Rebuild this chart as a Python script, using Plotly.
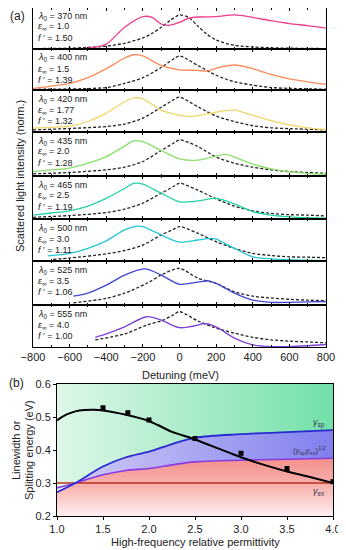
import plotly.graph_objects as go

W, H = 346, 550
OFF = 8  # page body margin of the html page
FONT = "Liberation Sans, Arial, sans-serif"

# ---------------- panel (a) data ----------------
detuning_ticks = [-800, -600, -400, -200, 0, 200, 400, 600, 800]
lambda0 = [370, 400, 420, 435, 465, 500, 525, 555]
eps_inf = ["1.0", "1.5", "1.77", "2.0", "2.5", "3.0", "3.5", "4.0"]
f_osc = ["1.50", "1.39", "1.32", "1.28", "1.19", "1.11", "1.06", "1.00"]
line_colors = ["#f03c8c", "#fa8c5c", "#f0d668", "#8ade6a", "#22d2a8", "#22c6d2", "#4444d4", "#7d40d4"]

# coupled spectra (solid)
det_370 = [-800, -600, -500, -400, -300, -200, -150, -100, -50, 0, 50, 100, 200, 300, 400, 500, 600, 700, 800]
int_370 = [0.01, 0.01, 0.02, 0.12, 0.53, 0.79, 0.77, 0.61, 0.58, 0.65, 0.75, 0.78, 0.79, 0.83, 0.77, 0.69, 0.62, 0.57, 0.51]
det_400 = [-800, -700, -600, -500, -400, -300, -250, -200, -100, 0, 100, 150, 200, 300, 400, 500, 600, 700, 800]
int_400 = [0.04, 0.095, 0.16, 0.30, 0.52, 0.78, 0.86, 0.83, 0.60, 0.49, 0.48, 0.46, 0.53, 0.61, 0.52, 0.38, 0.27, 0.20, 0.14]
det_420 = [-800, -700, -600, -500, -400, -300, -250, -200, -100, 0, 50, 100, 150, 250, 300, 400, 500, 600, 700, 800]
int_420 = [0.09, 0.11, 0.14, 0.25, 0.45, 0.72, 0.81, 0.79, 0.52, 0.40, 0.37, 0.39, 0.43, 0.51, 0.52, 0.40, 0.27, 0.17, 0.10, 0.06]
det_435 = [-800, -700, -600, -500, -400, -300, -250, -200, -100, 0, 100, 200, 250, 300, 400, 500, 600, 700, 800]
int_435 = [0.10, 0.14, 0.18, 0.29, 0.44, 0.68, 0.80, 0.78, 0.58, 0.39, 0.36, 0.45, 0.49, 0.43, 0.27, 0.16, 0.10, 0.06, 0.04]
det_465 = [-800, -700, -600, -500, -400, -300, -250, -200, -100, 0, 100, 200, 300, 400, 500, 600, 700, 800]
int_465 = [0.09, 0.14, 0.19, 0.30, 0.48, 0.71, 0.83, 0.81, 0.60, 0.40, 0.42, 0.48, 0.35, 0.17, 0.09, 0.05, 0.03, 0.02]
det_500 = [-720, -600, -500, -400, -300, -230, -200, -100, 0, 100, 175, 200, 300, 400, 500, 600, 700, 800]
int_500 = [0.12, 0.18, 0.30, 0.48, 0.74, 0.83, 0.82, 0.62, 0.45, 0.50, 0.54, 0.52, 0.30, 0.10, 0.05, 0.03, 0.02, 0.01]
det_525 = [-580, -500, -400, -300, -190, -100, -35, 0, 100, 160, 200, 300, 400, 500, 600, 700, 800]
int_525 = [0.20, 0.27, 0.45, 0.68, 0.82, 0.68, 0.53, 0.47, 0.52, 0.55, 0.49, 0.27, 0.11, 0.06, 0.06, 0.07, 0.08]
det_555 = [-460, -400, -300, -180, -100, -35, 0, 100, 130, 200, 300, 400, 500, 600, 700, 800]
int_555 = [0.23, 0.31, 0.48, 0.72, 0.64, 0.51, 0.46, 0.52, 0.56, 0.48, 0.21, 0.05, 0.01, 0.01, 0.03, 0.06]

# uncoupled exciton spectra (dashed)
xdet_370 = [-800, -600, -500, -400, -300, -200, -150, -100, -50, 0, 50, 100, 150, 200, 300, 400, 500, 600, 800]
xint_370 = [0.01, 0.02, 0.04, 0.07, 0.14, 0.27, 0.38, 0.53, 0.70, 0.83, 0.77, 0.56, 0.36, 0.22, 0.09, 0.05, 0.03, 0.02, 0.01]
xdet_400 = [-800, -400, -300, -200, -100, -35, 0, 100, 200, 300, 400, 500, 600, 800]
xint_400 = [0.02, 0.06, 0.16, 0.30, 0.55, 0.75, 0.83, 0.60, 0.36, 0.20, 0.12, 0.06, 0.04, 0.02]
xdet_420 = [-800, -400, -300, -200, -100, -35, 0, 100, 200, 300, 400, 500, 600, 800]
xint_420 = [0.05, 0.13, 0.19, 0.33, 0.59, 0.76, 0.83, 0.60, 0.38, 0.25, 0.15, 0.10, 0.08, 0.05]
xdet_435 = [-800, -600, -400, -300, -200, -100, -35, 0, 100, 200, 300, 400, 500, 600, 700, 800]
xint_435 = [0.05, 0.08, 0.14, 0.20, 0.33, 0.58, 0.74, 0.82, 0.67, 0.43, 0.29, 0.20, 0.14, 0.10, 0.08, 0.06]
xdet_465 = [-800, -600, -400, -300, -200, -100, -35, 0, 100, 200, 300, 400, 500, 600, 700, 800]
xint_465 = [0.04, 0.08, 0.15, 0.23, 0.37, 0.60, 0.75, 0.83, 0.67, 0.47, 0.30, 0.19, 0.13, 0.10, 0.09, 0.07]
xdet_500 = [-690, -600, -400, -300, -200, -100, -35, 0, 100, 200, 300, 400, 500, 600, 700, 800]
xint_500 = [0.04, 0.07, 0.17, 0.25, 0.38, 0.62, 0.75, 0.82, 0.66, 0.46, 0.30, 0.18, 0.13, 0.10, 0.09, 0.08]
xdet_525 = [-580, -400, -300, -180, -100, 0, 100, 200, 300, 400, 500, 600, 700, 800]
xint_525 = [0.05, 0.15, 0.27, 0.49, 0.68, 0.83, 0.61, 0.49, 0.30, 0.20, 0.16, 0.13, 0.11, 0.10]
xdet_555 = [-460, -300, -180, -90, -35, 0, 100, 200, 300, 400, 500, 600, 700, 800]
xint_555 = [0.17, 0.31, 0.52, 0.64, 0.76, 0.84, 0.62, 0.45, 0.33, 0.23, 0.17, 0.14, 0.12, 0.10]

coupled = [(det_370, int_370), (det_400, int_400), (det_420, int_420), (det_435, int_435),
           (det_465, int_465), (det_500, int_500), (det_525, int_525), (det_555, int_555)]
exciton = [(xdet_370, xint_370), (xdet_400, xint_400), (xdet_420, xint_420), (xdet_435, xint_435),
           (xdet_465, xint_465), (xdet_500, xint_500), (xdet_525, xint_525), (xdet_555, xint_555)]

# ---------------- panel (b) data ----------------
eps_ticks = [1.0, 1.5, 2.0, 2.5, 3.0, 3.5, 4.0]
eps_theory = [1.0, 1.1, 1.2, 1.3, 1.4, 1.5, 1.75, 2.0, 2.1, 2.25, 2.5, 2.75, 3.0, 3.25, 3.5, 3.75, 4.0]
split_theory = [0.490, 0.507, 0.517, 0.521, 0.522, 0.520, 0.507, 0.488, 0.475, 0.455, 0.432, 0.405,
                 0.378, 0.355, 0.335, 0.318, 0.300]
eps_exp = [1.5, 1.77, 2.0, 2.5, 3.0, 3.5, 4.0]
split_exp = [0.528, 0.513, 0.491, 0.435, 0.390, 0.344, 0.304]
eps_grid = [1.0, 1.2, 1.5, 1.75, 2.0, 2.25, 2.5, 3.0, 3.5, 4.0]
gamma_sp = [0.272, 0.300, 0.350, 0.378, 0.395, 0.418, 0.437, 0.448, 0.454, 0.460]
gamma_geo = [0.285, 0.300, 0.325, 0.338, 0.344, 0.355, 0.364, 0.369, 0.372, 0.375]
gamma_ex = [0.30] * len(eps_grid)
yb_range = [0.2, 0.6]

FW, FH = W - OFF, H - OFF


def px(x):
    return min(1.0, max(0.0, (x - OFF) / FW))


def py(y):
    return min(1.0, max(0.0, 1 - (y - OFF) / FH))


fig = go.Figure()
layout = {}
ann = []

panel_px = [8, 49, 90, 132, 176, 219, 261, 305, 347]
xa_dom = [px(33), px(326)]
tick_font = dict(size=11, family=FONT, color="#222")

for i in range(8):
    k = i + 1
    xs = "x" if k == 1 else f"x{k}"
    ys = "y" if k == 1 else f"y{k}"
    dx, dy = exciton[i]
    fig.add_trace(go.Scatter(x=dx, y=dy, mode="lines", xaxis=xs, yaxis=ys,
                             line=dict(color="#222222", width=1.3, dash="3px,2px", shape="spline", smoothing=0.8),
                             showlegend=False, hoverinfo="skip"))
    cx, cy = coupled[i]
    fig.add_trace(go.Scatter(x=cx, y=cy, mode="lines", xaxis=xs, yaxis=ys,
                             line=dict(color=line_colors[i], width=1.3, shape="spline", smoothing=0.8),
                             showlegend=False, hoverinfo="skip"))
    top, bot = panel_px[i], panel_px[i + 1]
    xname = "xaxis" if k == 1 else f"xaxis{k}"
    yname = "yaxis" if k == 1 else f"yaxis{k}"
    layout[xname] = dict(domain=xa_dom, anchor=ys, range=[-800, 800], showline=True, linecolor="black",
                         linewidth=1, mirror="ticks", ticks="inside", ticklen=3, tickcolor="black",
                         tickvals=detuning_ticks, showticklabels=(k == 8), showgrid=False, zeroline=False,
                         minor=dict(ticks="inside", ticklen=2, dtick=100, tickcolor="black"),
                         tickfont=tick_font, automargin=False)
    if k != 1:
        layout[xname]["matches"] = "x"
    layout[yname] = dict(domain=[py(bot), py(top)], anchor=xs, range=[0, 1], showline=True, linecolor="black",
                         linewidth=1, mirror=True, ticks="", showticklabels=False, showgrid=False,
                         zeroline=False, automargin=False)
    texts = [f"<i>λ</i><sub>0</sub> = {lambda0[i]} nm",
             f"<i>ε</i><sub>∞</sub> = {eps_inf[i]}",
             f"<i>f</i> ′ = {f_osc[i]}"]
    base = top + 8 if i == 0 else top + 9
    for j, t in enumerate(texts):
        ann.append(dict(x=px(36), y=py(base + 11 * j), xref="paper", yref="paper", text=t,
                        showarrow=False, xanchor="left", yanchor="middle",
                        font=dict(size=9, family=FONT, color="#222")))

# ---------------- panel (b) ----------------
y_lo = [yb_range[0]] * len(eps_grid)
y_hi = [yb_range[1]] * len(eps_grid)
fig.add_trace(go.Scatter(x=eps_grid, y=y_lo, mode="lines", line=dict(width=0), xaxis="x9", yaxis="y9",
                         showlegend=False, hoverinfo="skip"))
fig.add_trace(go.Scatter(x=eps_grid, y=gamma_geo, mode="lines", line=dict(width=0, shape="spline"), fill="tonexty",
                         fillgradient=dict(type="vertical",
                                           colorscale=[[0, "#fdf0f0"], [0.5, "#f8b4b0"], [1, "#f2908c"]]),
                         xaxis="x9", yaxis="y9", showlegend=False, hoverinfo="skip"))
fig.add_trace(go.Scatter(x=eps_grid, y=gamma_sp, mode="lines", line=dict(width=0, shape="spline"), fill="tonexty",
                         fillgradient=dict(type="horizontal",
                                           colorscale=[[0, "#d4cef6"], [1, "#8080ee"]]),
                         xaxis="x9", yaxis="y9", showlegend=False, hoverinfo="skip"))
fig.add_trace(go.Scatter(x=eps_grid, y=y_hi, mode="lines", line=dict(width=0), fill="tonexty",
                         fillgradient=dict(type="horizontal",
                                           colorscale=[[0, "#dff7e8"], [1, "#72e0a8"]]),
                         xaxis="x9", yaxis="y9", showlegend=False, hoverinfo="skip"))
fig.add_trace(go.Scatter(x=eps_grid, y=gamma_ex, mode="lines", line=dict(color="#b8301e", width=1.3),
                         xaxis="x9", yaxis="y9", showlegend=False, hoverinfo="skip"))
fig.add_trace(go.Scatter(x=eps_grid, y=gamma_geo, mode="lines",
                         line=dict(color="#8a3ae0", width=1.6, shape="spline"),
                         xaxis="x9", yaxis="y9", showlegend=False, hoverinfo="skip"))
fig.add_trace(go.Scatter(x=eps_grid, y=gamma_sp, mode="lines",
                         line=dict(color="#2a2ad2", width=1.8, shape="spline"),
                         xaxis="x9", yaxis="y9", showlegend=False, hoverinfo="skip"))
fig.add_trace(go.Scatter(x=eps_theory, y=split_theory, mode="lines",
                         line=dict(color="black", width=2, shape="spline", smoothing=0.6),
                         xaxis="x9", yaxis="y9", showlegend=False, hoverinfo="skip"))
fig.add_trace(go.Scatter(x=eps_exp, y=split_exp, mode="markers",
                         marker=dict(symbol="square", size=5, color="black"),
                         xaxis="x9", yaxis="y9", showlegend=False, hoverinfo="skip"))

layout["xaxis9"] = dict(domain=[px(57), px(333)], anchor="y9", range=[1, 4], tickvals=eps_ticks,
                        ticktext=[f"{v:.1f}" for v in eps_ticks], showline=True, linecolor="black",
                        linewidth=1, mirror=True, ticks="outside", ticklen=3, tickcolor="black",
                        showgrid=False, zeroline=False, tickfont=tick_font, automargin=False)
layout["yaxis9"] = dict(domain=[py(516), py(384)], anchor="x9", range=yb_range, dtick=0.1, tickformat=".1f",
                        showline=True, linecolor="black", linewidth=1, mirror=True, ticks="outside",
                        ticklen=3, tickcolor="black", showgrid=False, zeroline=False,
                        tickfont=tick_font, automargin=False)

lab_font = dict(size=9, family=FONT, color="#333355")
title_font = dict(size=11, family=FONT, color="#222")
ann += [
    dict(x=3.93, y=0.483, xref="x9", yref="y9", text="<i>γ</i><sub>sp</sub>", showarrow=False,
         xanchor="right", font=lab_font),
    dict(x=3.95, y=0.397, xref="x9", yref="y9", text="(<i>γ</i><sub>sp</sub><i>γ</i><sub>ex</sub>)<sup>1/2</sup>",
         showarrow=False, xanchor="right", font=dict(size=8, family=FONT, color="#333355")),
    dict(x=3.93, y=0.274, xref="x9", yref="y9", text="<i>γ</i><sub>ex</sub>", showarrow=False,
         xanchor="right", font=lab_font),
    dict(x=px(17), y=py(16), xref="paper", yref="paper", text="(a)", showarrow=False, borderpad=0,
         xanchor="center", yanchor="middle", font=dict(size=12, family=FONT, color="#222")),
    dict(x=px(16), y=py(383), xref="paper", yref="paper", text="(b)", showarrow=False, borderpad=0,
         xanchor="center", yanchor="middle", font=dict(size=12, family=FONT, color="#222")),
    dict(x=px(20), y=py(176), xref="paper", yref="paper", text="Scattered light intensity (norm.)",
         textangle=-90, showarrow=False, xanchor="center", yanchor="middle", font=title_font),
    dict(x=px(180), y=py(375), xref="paper", yref="paper", text="Detuning (meV)", showarrow=False,
         xanchor="center", yanchor="middle", font=title_font),
    dict(x=px(16), y=py(450), xref="paper", yref="paper", text="Linewidth or", borderpad=0,
         textangle=-90, showarrow=False, xanchor="center", yanchor="middle", font=title_font),
    dict(x=px(29), y=py(450), xref="paper", yref="paper", text="Splitting energy (eV)", borderpad=0,
         textangle=-90, showarrow=False, xanchor="center", yanchor="middle", font=title_font),
    dict(x=px(195), y=py(542), xref="paper", yref="paper", text="High-frequency relative permittivity",
         showarrow=False, xanchor="center", yanchor="middle", font=title_font),
]

fig.update_layout(width=FW, height=FH, margin=dict(l=0, r=0, t=0, b=0), paper_bgcolor="white",
                  plot_bgcolor="white", annotations=ann, font=dict(family=FONT), **layout)

fig.write_html("out.html")
